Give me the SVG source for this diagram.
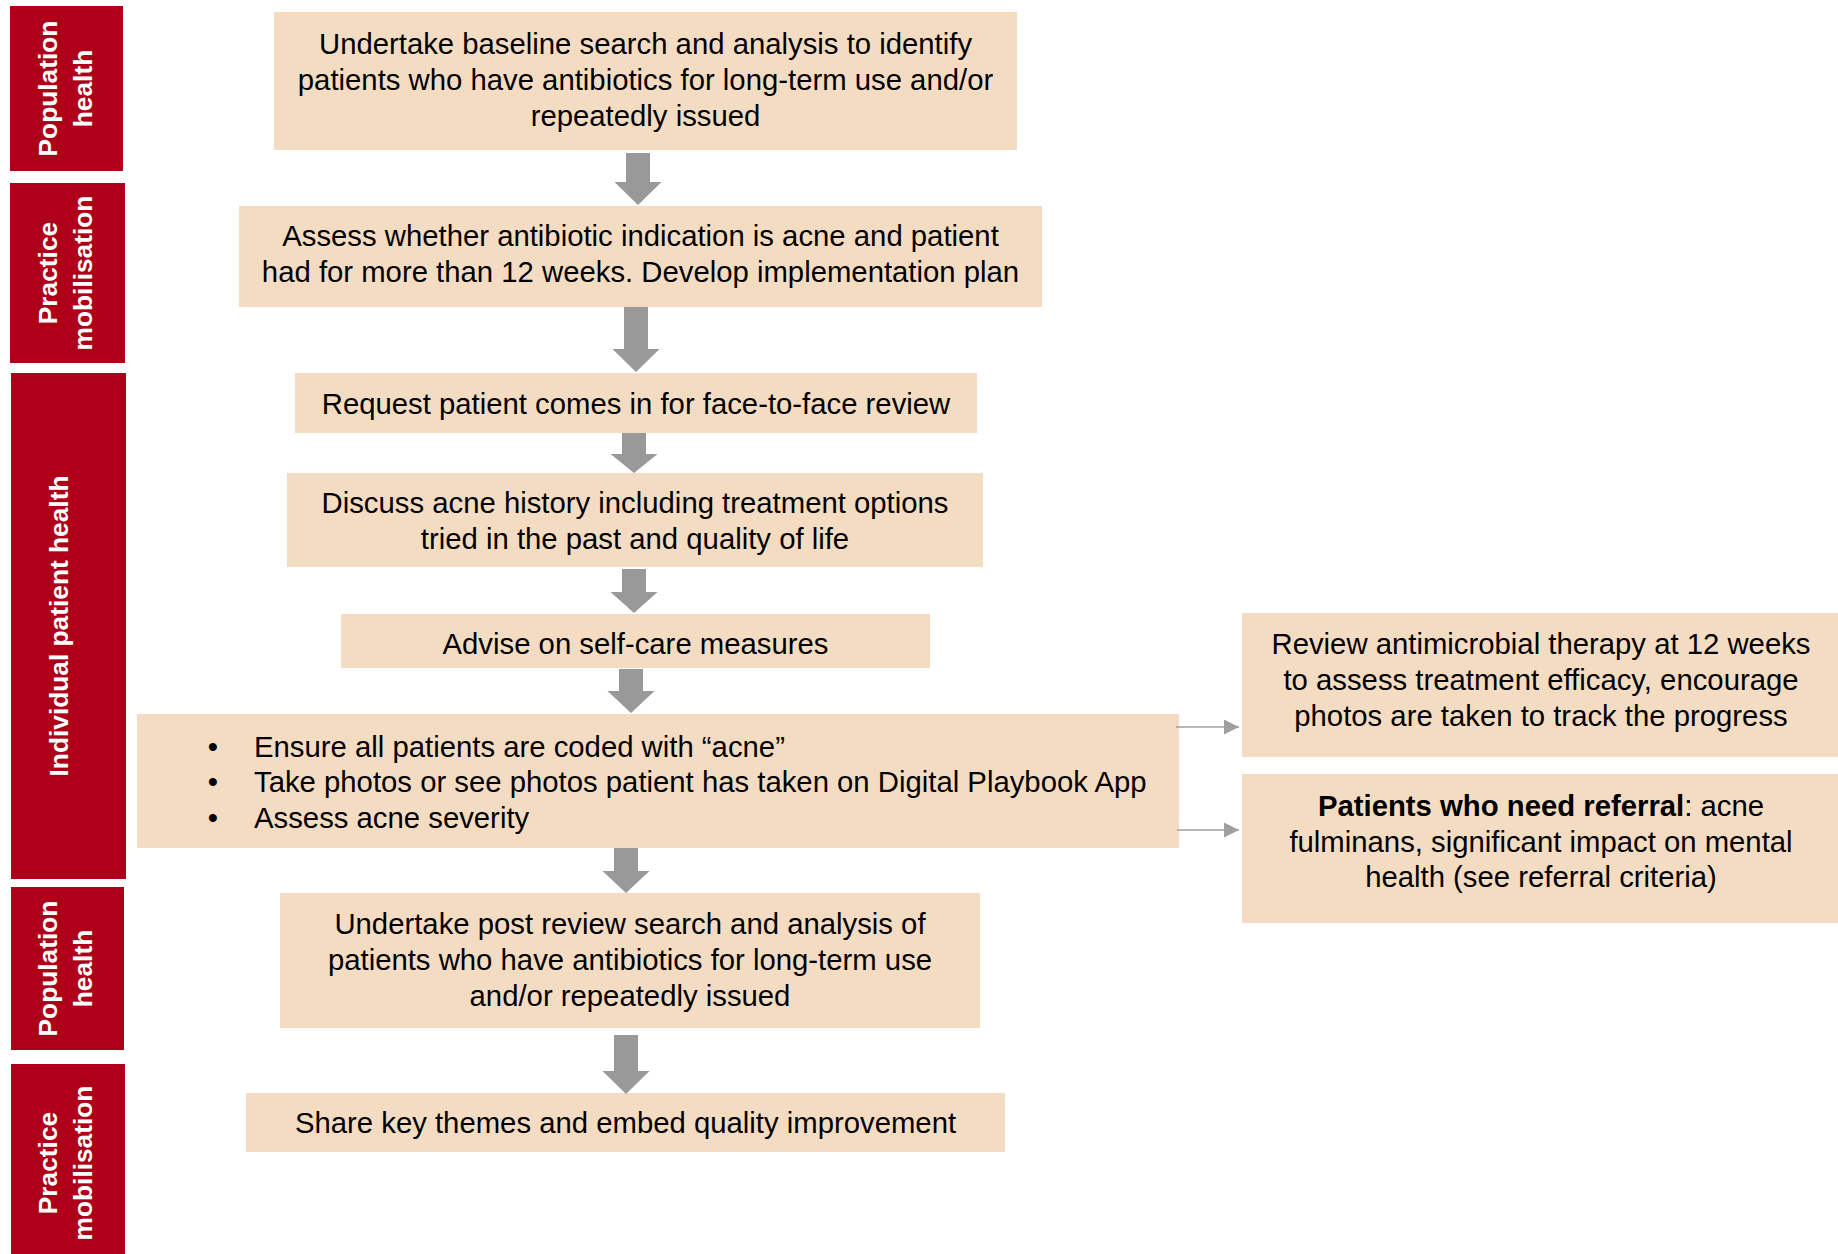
<svg xmlns="http://www.w3.org/2000/svg" width="1838" height="1254" viewBox="0 0 1838 1254">
  <defs>
    <style>
      .band { fill: #AE0019; }
      .band-label { fill: #FFFFFF; font-family: "Liberation Sans", Arial, sans-serif; font-weight: bold; font-size: 26.3px; text-anchor: middle; }
      .box { fill: #F4DCC3; }
      .txt { fill: #000000; font-family: "Liberation Sans", Arial, sans-serif; font-size: 29.3px; text-anchor: middle; }
      .txt-left { fill: #000000; font-family: "Liberation Sans", Arial, sans-serif; font-size: 29.3px; }
      .block-arrow { fill: #999999; }
      .thin { stroke: #A0A0A0; stroke-width: 1.6; fill: none; }
    </style>
    <marker id="tri" markerWidth="15" markerHeight="15" refX="15" refY="7.5" orient="auto" markerUnits="userSpaceOnUse" viewBox="0 0 15 15">
      <path d="M0,0 L15,7.5 L0,15 Z" fill="#A0A0A0"/>
    </marker>
  </defs>
  <rect width="1838" height="1254" fill="#FFFFFF"/>

  <!-- stage bands down the left edge -->
  <g id="band-population-1">
    <rect class="band" x="10" y="6" width="113" height="165"/>
    <text class="band-label" transform="translate(57,88.5) rotate(-90)">Population</text>
    <text class="band-label" transform="translate(92,88.5) rotate(-90)">health</text>
  </g>
  <g id="band-practice-1">
    <rect class="band" x="10" y="183" width="115" height="180"/>
    <text class="band-label" transform="translate(57,273) rotate(-90)">Practice</text>
    <text class="band-label" transform="translate(92,273) rotate(-90)">mobilisation</text>
  </g>
  <g id="band-individual">
    <rect class="band" x="11" y="373" width="115" height="506"/>
    <text class="band-label" transform="translate(68,626) rotate(-90)">Individual patient health</text>
  </g>
  <g id="band-population-2">
    <rect class="band" x="11" y="887" width="113" height="163"/>
    <text class="band-label" transform="translate(57,968.5) rotate(-90)">Population</text>
    <text class="band-label" transform="translate(92,968.5) rotate(-90)">health</text>
  </g>
  <g id="band-practice-2">
    <rect class="band" x="11" y="1064" width="114" height="200"/>
    <text class="band-label" transform="translate(57,1163) rotate(-90)">Practice</text>
    <text class="band-label" transform="translate(92,1163) rotate(-90)">mobilisation</text>
  </g>

  <!-- process steps -->
  <g id="step-baseline-search">
    <rect class="box" x="274" y="12" width="743" height="138"/>
    <text class="txt" x="645.5" y="54">Undertake baseline search and analysis to identify</text>
    <text class="txt" x="645.5" y="90">patients who have antibiotics for long-term use and/or</text>
    <text class="txt" x="645.5" y="126">repeatedly issued</text>
  </g>
  <g id="step-assess-indication">
    <rect class="box" x="239" y="206" width="803" height="101"/>
    <text class="txt" x="640.5" y="246">Assess whether antibiotic indication is acne and patient</text>
    <text class="txt" x="640.5" y="282">had for more than 12 weeks. Develop implementation plan</text>
  </g>
  <g id="step-request-review">
    <rect class="box" x="295" y="373" width="682" height="60"/>
    <text class="txt" x="636" y="414">Request patient comes in for face-to-face review</text>
  </g>
  <g id="step-discuss-history">
    <rect class="box" x="287" y="473" width="696" height="94"/>
    <text class="txt" x="635" y="513">Discuss acne history including treatment options</text>
    <text class="txt" x="635" y="549">tried in the past and quality of life</text>
  </g>
  <g id="step-self-care">
    <rect class="box" x="341" y="614" width="589" height="54"/>
    <text class="txt" x="635.5" y="654">Advise on self-care measures</text>
  </g>
  <g id="step-code-and-photos">
    <rect class="box" x="137" y="714" width="1042" height="134"/>
    <text class="txt" x="213" y="757">•</text>
    <text class="txt" x="213" y="792">•</text>
    <text class="txt" x="213" y="828">•</text>
    <text class="txt-left" x="254" y="757">Ensure all patients are coded with “acne”</text>
    <text class="txt-left" x="254" y="792">Take photos or see photos patient has taken on Digital Playbook App</text>
    <text class="txt-left" x="254" y="828">Assess acne severity</text>
  </g>
  <g id="step-post-review-search">
    <rect class="box" x="280" y="893" width="700" height="135"/>
    <text class="txt" x="630" y="934">Undertake post review search and analysis of</text>
    <text class="txt" x="630" y="970">patients who have antibiotics for long-term use</text>
    <text class="txt" x="630" y="1006">and/or repeatedly issued</text>
  </g>
  <g id="step-share-themes">
    <rect class="box" x="246" y="1093" width="759" height="59"/>
    <text class="txt" x="625.5" y="1133">Share key themes and embed quality improvement</text>
  </g>

  <!-- side outcomes -->
  <g id="outcome-review-therapy">
    <rect class="box" x="1242" y="613" width="596" height="144"/>
    <text class="txt" x="1541" y="654">Review antimicrobial therapy at 12 weeks</text>
    <text class="txt" x="1541" y="690">to assess treatment efficacy, encourage</text>
    <text class="txt" x="1541" y="726">photos are taken to track the progress</text>
  </g>
  <g id="outcome-referral">
    <rect class="box" x="1242" y="774" width="596" height="149"/>
    <text class="txt" x="1541" y="816"><tspan font-weight="bold">Patients who need referral</tspan>: acne</text>
    <text class="txt" x="1541" y="852">fulminans, significant impact on mental</text>
    <text class="txt" x="1541" y="887">health (see referral criteria)</text>
  </g>

  <!-- connectors -->
  <g id="connectors">
    <polygon class="block-arrow" points="626,153 650,153 650,182 661.5,182 638,205 614.5,182 626,182"/>
    <polygon class="block-arrow" points="624,307 648,307 648,349 659.5,349 636,372 612.5,349 624,349"/>
    <polygon class="block-arrow" points="622,433 646,433 646,454 657.5,454 634,473 610.5,454 622,454"/>
    <polygon class="block-arrow" points="622,569 646,569 646,592 657.5,592 634,613 610.5,592 622,592"/>
    <polygon class="block-arrow" points="619,669 643,669 643,691 654.5,691 631,713 607.5,691 619,691"/>
    <polygon class="block-arrow" points="614,848 638,848 638,871 649.5,871 626,893 602.5,871 614,871"/>
    <polygon class="block-arrow" points="614,1035 638,1035 638,1071 649.5,1071 626,1094 602.5,1071 614,1071"/>
    <line class="thin" x1="1176" y1="727" x2="1239" y2="727" marker-end="url(#tri)"/>
    <line class="thin" x1="1177" y1="830" x2="1239" y2="830" marker-end="url(#tri)"/>
  </g>
</svg>
